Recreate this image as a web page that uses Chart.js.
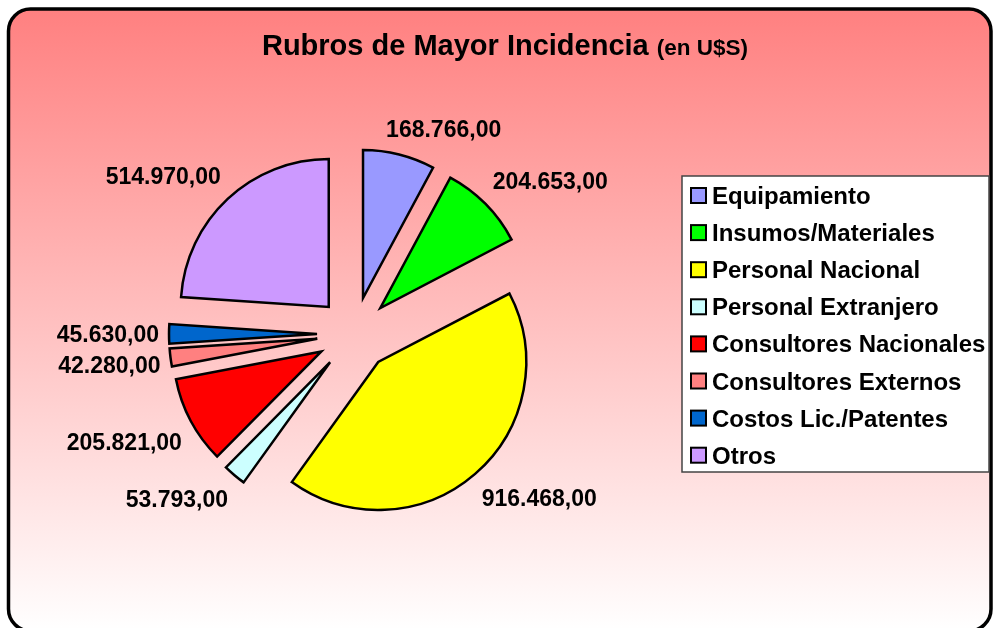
<!DOCTYPE html>
<html><head><meta charset="utf-8">
<script src="https://cdn.jsdelivr.net/npm/chart.js@4"></script>
<style>html,body{margin:0;padding:0;background:#fff;overflow:hidden}canvas{display:block}</style>
</head><body>
<canvas id="c" width="994" height="628"></canvas>
<script>
// ---- data ----
const categories = ["Equipamiento","Insumos/Materiales","Personal Nacional","Personal Extranjero","Consultores Nacionales","Consultores Externos","Costos Lic./Patentes","Otros"];
const values = [168766, 204653, 916468, 53793, 205821, 42280, 45630, 514970];
const titleMain = "Rubros de Mayor Incidencia";
const titleSub = "(en U$S)";

// ---- styles ----
const colors = ["#9999FF","#00FF00","#FFFF00","#CCFFFF","#FF0000","#FF8080","#0066CC","#CC99FF"];
const FONT = '"Liberation Sans", Arial, Helvetica, sans-serif';
const EXPLODE = 37;

function fmt(v) {
  const s = Math.round(v).toString();
  return s.replace(/\B(?=(\d{3})+(?!\d))/g, ".") + ",00";
}

const bgPlugin = {
  id: 'bg',
  beforeDraw(chart) {
    const ctx = chart.ctx;
    ctx.save();
    ctx.fillStyle = '#fff';
    ctx.fillRect(0, 0, chart.width, chart.height);
    const x0 = 8.5, y0 = 9, x1 = 991, y1 = 631, r = 22;
    ctx.beginPath();
    ctx.moveTo(x0 + r, y0);
    ctx.lineTo(x1 - r, y0);
    ctx.arcTo(x1, y0, x1, y0 + r, r);
    ctx.lineTo(x1, y1 - r);
    ctx.arcTo(x1, y1, x1 - r, y1, r);
    ctx.lineTo(x0 + r, y1);
    ctx.arcTo(x0, y1, x0, y1 - r, r);
    ctx.lineTo(x0, y0 + r);
    ctx.arcTo(x0, y0, x0 + r, y0, r);
    ctx.closePath();
    const g = ctx.createLinearGradient(0, y0, 0, y1);
    g.addColorStop(0, '#FF8080');
    g.addColorStop(1, '#FFFFFF');
    ctx.fillStyle = g;
    ctx.fill();
    ctx.lineWidth = 3.5;
    ctx.strokeStyle = '#000';
    ctx.stroke();
    // title
    ctx.fillStyle = '#000';
    ctx.textBaseline = 'alphabetic';
    ctx.font = 'bold 29px ' + FONT;
    const w1 = ctx.measureText(titleMain + ' ').width;
    ctx.font = 'bold 22.5px ' + FONT;
    const w2 = ctx.measureText(titleSub).width;
    const start = 505 - (w1 + w2) / 2;
    ctx.font = 'bold 29px ' + FONT;
    ctx.fillText(titleMain, start, 55);
    ctx.font = 'bold 22.5px ' + FONT;
    ctx.fillText(titleSub, start + w1, 55);
    ctx.restore();
  }
};

const explodePlugin = {
  id: 'explode',
  afterDatasetsUpdate(chart) {
    chart.getDatasetMeta(0).data.forEach(arc => {
      if (arc._exploded) return;
      arc._exploded = true;
      const orig = arc.draw;
      arc.draw = function (ctx) {
        const mid = (this.startAngle + this.endAngle) / 2;
        ctx.save();
        ctx.translate(Math.cos(mid) * EXPLODE, Math.sin(mid) * EXPLODE);
        orig.call(this, ctx);
        ctx.restore();
      };
    });
  }
};

const clamp = v => Math.max(-1, Math.min(1, v));
const labelPlugin = {
  id: 'vlabels',
  afterDatasetsDraw(chart) {
    const ctx = chart.ctx;
    const meta = chart.getDatasetMeta(0);
    const size = 23;
    ctx.save();
    ctx.font = 'bold ' + size + 'px ' + FONT;
    ctx.fillStyle = '#000';
    ctx.textAlign = 'center';
    ctx.textBaseline = 'alphabetic';
    meta.data.forEach((arc, i) => {
      const mid = (arc.startAngle + arc.endAngle) / 2;
      const sx = Math.cos(mid), sy = Math.sin(mid);
      const R = arc.outerRadius + EXPLODE + 10;
      const txt = fmt(chart.data.datasets[0].data[i]);
      const hw = ctx.measureText(txt).width / 2;
      const lx = arc.x + sx * R + hw * clamp(sx * 3);
      const ly = arc.y + sy * R + 16 * clamp(sy * 3);
      ctx.fillText(txt, lx, ly + 0.358 * size);
    });
    ctx.restore();
  }
};

const legendPlugin = {
  id: 'boxlegend',
  afterDraw(chart) {
    const ctx = chart.ctx;
    const ds = chart.data.datasets[0];
    ctx.save();
    ctx.fillStyle = '#fff';
    ctx.fillRect(682, 176, 307, 296);
    ctx.strokeStyle = '#444';
    ctx.lineWidth = 1.5;
    ctx.strokeRect(682, 176, 307, 296);
    const size = 24;
    ctx.font = 'bold ' + size + 'px ' + FONT;
    ctx.textBaseline = 'alphabetic';
    ctx.textAlign = 'left';
    chart.data.labels.forEach((lab, i) => {
      const cy = 195.5 + i * 37.1;
      ctx.fillStyle = ds.backgroundColor[i];
      ctx.fillRect(691, cy - 7.5, 15, 15);
      ctx.strokeStyle = '#000';
      ctx.lineWidth = 2;
      ctx.strokeRect(691, cy - 7.5, 15, 15);
      ctx.fillStyle = '#000';
      ctx.fillText(lab, 712, cy + 0.358 * size);
    });
    ctx.restore();
  }
};

new Chart(document.getElementById('c'), {
  type: 'pie',
  data: {
    labels: categories,
    datasets: [{
      data: values,
      backgroundColor: colors,
      borderColor: '#000',
      borderWidth: 2.5,
      borderJoinStyle: 'miter',
      radius: 148,
      offset: 0,
      hoverOffset: 0
    }]
  },
  options: {
    responsive: false,
    animation: false,
    events: [],
    layout: { padding: { left: 0, right: 286, top: 40, bottom: 0 } },
    plugins: { legend: { display: false }, title: { display: false }, tooltip: { enabled: false } }
  },
  plugins: [bgPlugin, explodePlugin, labelPlugin, legendPlugin]
});
</script>
</body></html>
